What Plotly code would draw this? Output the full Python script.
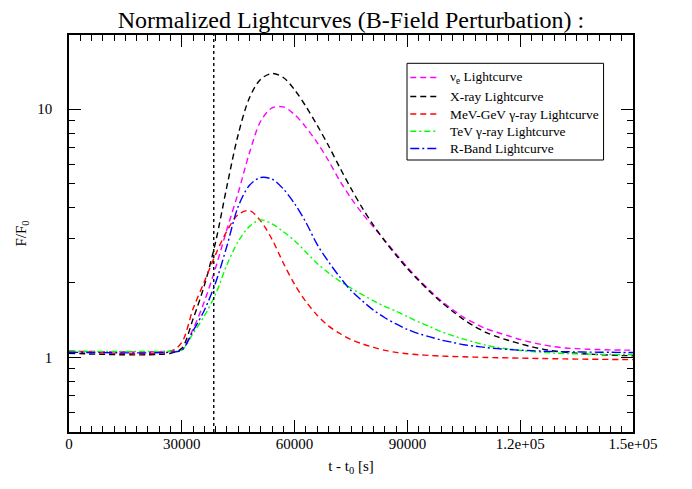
import plotly.graph_objects as go

# time grid [s]
t = [0, 27000, 30000, 33000, 36000, 39000, 42000, 45000, 48000, 51000, 54000, 57000,
     60000, 63000, 66000, 69000, 72000, 75000, 78000, 81000, 84000, 87000, 90000,
     93000, 96000, 99000, 102000, 105000, 108000, 111000, 114000, 117000, 120000,
     123000, 126000, 129000, 132000, 135000, 138000, 141000, 144000, 147000, 150000]

nu_e = [1.06, 1.06, 1.08, 1.3, 1.68, 2.3, 3.28, 4.6, 6.67, 8.95, 10.1, 10.2,
        9.5, 8.45, 7.33, 6.2, 5.15, 4.38, 3.8, 3.35, 2.96, 2.61, 2.31,
        2.06, 1.86, 1.69, 1.56, 1.45, 1.37, 1.305, 1.26, 1.22, 1.18,
        1.15, 1.125, 1.105, 1.092, 1.085, 1.079, 1.076, 1.073, 1.071, 1.07]
xray = [1.04, 1.04, 1.09, 1.43, 1.95, 2.92, 4.89, 7.9, 11.1, 13.2, 13.9, 13.4,
        11.95, 10.25, 8.6, 7.13, 5.82, 4.79, 4.0, 3.40, 2.94, 2.58, 2.28,
        2.04, 1.84, 1.67, 1.535, 1.42, 1.33, 1.26, 1.21, 1.17, 1.135,
        1.105, 1.08, 1.062, 1.05, 1.04, 1.032, 1.027, 1.022, 1.019, 1.016]
mevgev = [1.06, 1.06, 1.15, 1.57, 2.02, 2.6, 3.23, 3.76, 3.9, 3.54, 2.99, 2.40,
          1.97, 1.68, 1.48, 1.34, 1.25, 1.18, 1.135, 1.098, 1.068, 1.048, 1.035,
          1.026, 1.019, 1.013, 1.009, 1.006, 1.003, 1.0, 0.998, 0.996, 0.994,
          0.992, 0.99, 0.988, 0.987, 0.985, 0.984, 0.983, 0.982, 0.981, 0.98]
tev = [1.06, 1.06, 1.07, 1.25, 1.47, 1.80, 2.36, 2.93, 3.37, 3.58, 3.45, 3.21,
       2.95, 2.66, 2.39, 2.19, 2.03, 1.90, 1.79, 1.69, 1.605, 1.535, 1.46,
       1.39, 1.33, 1.27, 1.225, 1.185, 1.15, 1.12, 1.097, 1.082, 1.067,
       1.057, 1.05, 1.042, 1.037, 1.034, 1.032, 1.03, 1.029, 1.028, 1.028]
rband = [1.05, 1.05, 1.07, 1.28, 1.55, 2.0, 2.81, 4.05, 4.93, 5.3, 5.22, 4.77,
         4.16, 3.5, 2.85, 2.43, 2.11, 1.86, 1.69, 1.55, 1.445, 1.364, 1.297,
         1.247, 1.21, 1.175, 1.15, 1.125, 1.11, 1.096, 1.085, 1.077, 1.07,
         1.065, 1.06, 1.057, 1.055, 1.053, 1.051, 1.05, 1.049, 1.048, 1.047]

t_marker = 38500

x_ticks = [0, 30000, 60000, 90000, 120000, 150000]
x_ticktext = ["0", "30000", "60000", "90000", "1.2e+05", "1.5e+05"]
y_ticks = [1, 10]
y_ticktext = ["1", "10"]
y_minor = [0.6, 0.7, 0.8, 0.9, 2, 3, 4, 5, 6, 7, 8, 9]

labels = ["ν<sub>e</sub> Lightcurve", "X-ray Lightcurve", "MeV-GeV γ-ray Lightcurve",
          "TeV γ-ray Lightcurve", "R-Band Lightcurve"]
colors = ["#ff00ff", "#000000", "#ff0000", "#00ff00", "#0000ff"]
dashes = ["6px,4px", "6px,4px", "6px,4px", "6px,3px,2px,3px", "9px,3px,2px,3px"]
values = [nu_e, xray, mevgev, tev, rband]

font = "Liberation Serif, Times New Roman, serif"

fig = go.Figure()
for name, vals, col, dash in zip(labels, values, colors, dashes):
    fig.add_trace(go.Scatter(x=t, y=vals, mode="lines", name=name, showlegend=False,
                             line=dict(color=col, width=1.4, dash=dash, shape="spline", smoothing=0.9)))

fig.add_shape(type="line", xref="x", yref="paper", x0=t_marker, x1=t_marker, y0=0, y1=1,
              line=dict(color="black", width=1.4, dash="dot"))

# legend box (drawn manually to match the compact row spacing)
leg_x0, leg_x1, leg_y0, leg_y1 = 0.5993, 0.9478, 0.6851, 0.9287
row_y = [0.8929, 0.8451, 0.8010, 0.7574, 0.7141]
fig.add_shape(type="rect", xref="paper", yref="paper", x0=leg_x0, x1=leg_x1, y0=leg_y0, y1=leg_y1,
              line=dict(color="black", width=1), fillcolor="white", layer="above")
for i, (lab, col, dash) in enumerate(zip(labels, colors, dashes)):
    fig.add_shape(type="line", xref="paper", yref="paper", x0=0.6051, x1=0.6520,
                  y0=row_y[i], y1=row_y[i], line=dict(color=col, width=1.4, dash=dash))
    fig.add_annotation(xref="paper", yref="paper", x=0.6714, y=row_y[i], xanchor="left",
                       yanchor="middle", text=lab, showarrow=False,
                       font=dict(size=13.4, family=font, color="black"))

fig.update_layout(
    width=692, height=489,
    margin=dict(l=56, r=67, t=27, b=65),
    paper_bgcolor="white", plot_bgcolor="white",
    font=dict(family=font, size=15, color="black"),
    title=dict(text="Normalized Lightcurves (B-Field Perturbation) :", xref="paper", x=0.5,
               xanchor="center", yref="container", y=0.976, yanchor="middle",
               font=dict(size=24, family=font)),
    showlegend=False,
)
fig.update_xaxes(range=[0, 150000], tickvals=x_ticks, ticktext=x_ticktext,
                 ticks="inside", ticklen=12, tickwidth=1, tickcolor="black",
                 showline=True, linecolor="black", linewidth=1.5, mirror="ticks",
                 showgrid=False, zeroline=False, ticklabelstandoff=-3,
                 minor=dict(dtick=3000, tick0=0, ticks="inside", ticklen=6, tickcolor="black", showgrid=False),
                 title=dict(text="t - t<sub>0</sub> [s]", standoff=10, font=dict(size=15)))
fig.update_yaxes(type="log", range=[-0.30, 1.298], tickvals=y_ticks, ticktext=y_ticktext,
                 ticks="inside", ticklen=12, tickwidth=1, tickcolor="black",
                 showline=True, linecolor="black", linewidth=1.5, mirror="ticks",
                 showgrid=False, zeroline=False, ticklabelstandoff=12,
                 minor=dict(tickvals=y_minor, ticks="inside", ticklen=6, tickcolor="black", showgrid=False),
                 title=dict(text="F/F<sub>0</sub>", standoff=7, font=dict(size=15)))

fig.write_html("out.html")
